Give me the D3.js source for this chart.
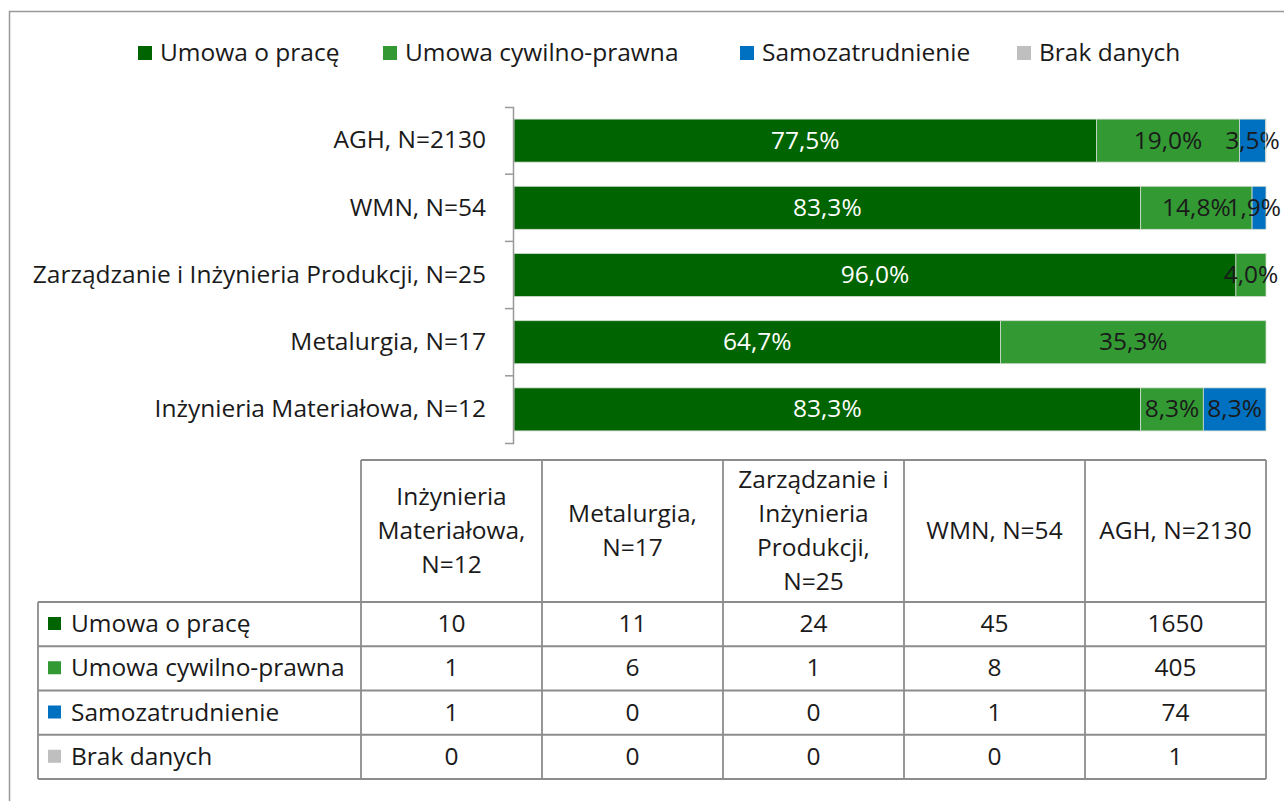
<!DOCTYPE html>
<html lang="pl">
    <head>
        <meta charset="utf-8">
        <title>Forma zatrudnienia</title>
        <style type="text/css">
            body { margin: 0; background: #fff; }
            svg { display: block; font-family: "Open Sans", "Noto Sans", sans-serif; }
        </style>
    </head>
    <body>

<script src="https://cdn.jsdelivr.net/npm/d3@7"></script>
<script>

    var w = 1284;
    var h = 801;
    var fs = 24.5;

    // categories in table order (bottom bar first)
    var categories = ["Inżynieria Materiałowa, N=12", "Metalurgia, N=17", "Zarządzanie i Inżynieria Produkcji, N=25", "WMN, N=54", "AGH, N=2130"];
    var headerLines = [["Inżynieria", "Materiałowa,", "N=12"], ["Metalurgia,", "N=17"], ["Zarządzanie i", "Inżynieria", "Produkcji,", "N=25"], ["WMN, N=54"], ["AGH, N=2130"]];
    var series = ["Umowa o pracę", "Umowa cywilno-prawna", "Samozatrudnienie", "Brak danych"];
    var colors = ["#006400", "#339933", "#0070C0", "#BFBFBF"];

    // counts per series, in category order
    var umowaOPrace = [10, 11, 24, 45, 1650];
    var umowaCywilna = [1, 6, 1, 8, 405];
    var samozatrudnienie = [1, 0, 0, 1, 74];
    var brakDanych = [0, 0, 0, 0, 1];
    var counts = [umowaOPrace, umowaCywilna, samozatrudnienie, brakDanych];

    var svg = d3.select("body")
            .append("svg")
            .attr("width", w)
            .attr("height", h);

    // outer frame
    svg.append("path")
        .attr("d", "M9.5," + h + "V11.5H" + w)
        .attr("fill", "none")
        .attr("stroke", "#999")
        .attr("stroke-width", 1.5);

    // build shares
    var rows = categories.map(function(c, i){
        var total = 0;
        counts.forEach(function(s){ total += s[i]; });
        var o = {cat: c};
        series.forEach(function(s, j){ o[s] = counts[j][i] / total; });
        return o;
    });
    var stacked = d3.stack().keys(series)(rows);

    var x = d3.scaleLinear().domain([0, 1]).range([514, 1266]);
    var y = d3.scaleBand()
        .domain(categories.slice().reverse())
        .range([107, 443])
        .paddingInner(0.36)
        .paddingOuter(0.18);

    var fmt = function(v){ return (v * 100).toFixed(1).replace(".", ",") + "%"; };

    // bars
    var layers = svg.selectAll("g.layer")
        .data(stacked)
        .enter()
        .append("g")
        .attr("class", "layer")
        .attr("fill", function(d, i){ return colors[i]; });

    layers.selectAll("rect")
        .data(function(d){ return d; })
        .enter()
        .append("rect")
        .attr("x", function(d){ return x(d[0]); })
        .attr("y", function(d){ return y(d.data.cat); })
        .attr("width", function(d){ return x(d[1]) - x(d[0]); })
        .attr("height", y.bandwidth())
        .attr("stroke", "#d0dcd0")
        .attr("stroke-width", 0.8);

    // bar labels (kept inside the picture)
    layers.each(function(layer, li){
        d3.select(this).selectAll("text")
            .data(layer.filter(function(d){ return d[1] - d[0] >= 0.005; }))
            .enter()
            .append("text")
            .attr("x", function(d){ return (x(d[0]) + x(d[1])) / 2; })
            .attr("y", function(d){ return y(d.data.cat) + y.bandwidth() / 2 + 8; })
            .attr("text-anchor", "middle")
            .attr("font-size", fs)
            .attr("fill", li === 0 ? "#fff" : "#1a1a1a")
            .text(function(d){ return fmt(d[1] - d[0]); })
            .each(function(){
                var bb = this.getBBox();
                var over = bb.x + bb.width - (w - 3);
                if (over > 0) d3.select(this).attr("x", +d3.select(this).attr("x") - over);
            });
    });

    // axis
    var axis = svg.append("g")
        .attr("transform", "translate(513,0)")
        .call(d3.axisLeft(y).tickSize(0).tickSizeOuter(8).tickPadding(27));
    axis.attr("font-family", null).attr("font-size", null);
    axis.select(".domain").attr("stroke", "#999").attr("stroke-width", 1.5);
    axis.selectAll("text").attr("font-size", fs).attr("fill", "#1a1a1a");
    for (var k = 1; k < categories.length; k++) {
        var ty = 107 + k * y.step();
        axis.append("line").attr("x1", -8).attr("x2", 0).attr("y1", ty).attr("y2", ty)
            .attr("stroke", "#999").attr("stroke-width", 1.5);
    }

    // legend
    var legendX = [138, 383, 740, 1017];
    series.forEach(function(s, i){
        var g = svg.append("g").attr("transform", "translate(" + legendX[i] + ",0)");
        g.append("rect").attr("x", 0).attr("y", 46).attr("width", 14).attr("height", 14).attr("fill", colors[i]);
        g.append("text").attr("x", 22).attr("y", 61).attr("font-size", fs).attr("fill", "#1a1a1a").text(s);
    });

    // data table
    var colX = d3.scaleBand().domain(categories).range([361, 1266]);
    var tTop = 460, hBot = 602, rowH = 44.25, labL = 38;
    var tbl = svg.append("g").attr("stroke", "#8c8c8c").attr("stroke-width", 1.8).attr("fill", "none");

    tbl.append("line").attr("x1", 361).attr("x2", 1266).attr("y1", tTop).attr("y2", tTop);
    for (var r = 0; r <= series.length; r++) {
        var ry = hBot + r * rowH;
        tbl.append("line").attr("x1", labL).attr("x2", 1266).attr("y1", ry).attr("y2", ry);
    }
    tbl.append("line").attr("x1", labL).attr("x2", labL).attr("y1", hBot).attr("y2", hBot + series.length * rowH);
    categories.forEach(function(c){
        tbl.append("line").attr("x1", colX(c)).attr("x2", colX(c)).attr("y1", tTop).attr("y2", hBot + series.length * rowH);
    });
    tbl.append("line").attr("x1", 1266).attr("x2", 1266).attr("y1", tTop).attr("y2", hBot + series.length * rowH);

    // header
    categories.forEach(function(c, i){
        var lines = headerLines[i];
        var cy = (tTop + hBot) / 2;
        var t = svg.append("text")
            .attr("text-anchor", "middle")
            .attr("font-size", fs)
            .attr("fill", "#1a1a1a");
        lines.forEach(function(l, j){
            t.append("tspan")
                .attr("x", colX(c) + colX.bandwidth() / 2)
                .attr("y", cy + 8 + (j - (lines.length - 1) / 2) * 34)
                .text(l);
        });
    });

    // rows
    series.forEach(function(s, r){
        var ry = hBot + r * rowH;
        svg.append("rect").attr("x", 48).attr("y", ry + 15).attr("width", 13).attr("height", 13).attr("fill", colors[r]);
        svg.append("text").attr("x", 71).attr("y", ry + rowH / 2 + 8).attr("font-size", fs).attr("fill", "#1a1a1a").text(s);
        categories.forEach(function(c, i){
            svg.append("text")
                .attr("x", colX(c) + colX.bandwidth() / 2)
                .attr("y", ry + rowH / 2 + 8)
                .attr("text-anchor", "middle")
                .attr("font-size", fs)
                .attr("fill", "#1a1a1a")
                .text(counts[r][i]);
        });
    });

</script>

    </body>
</html>
